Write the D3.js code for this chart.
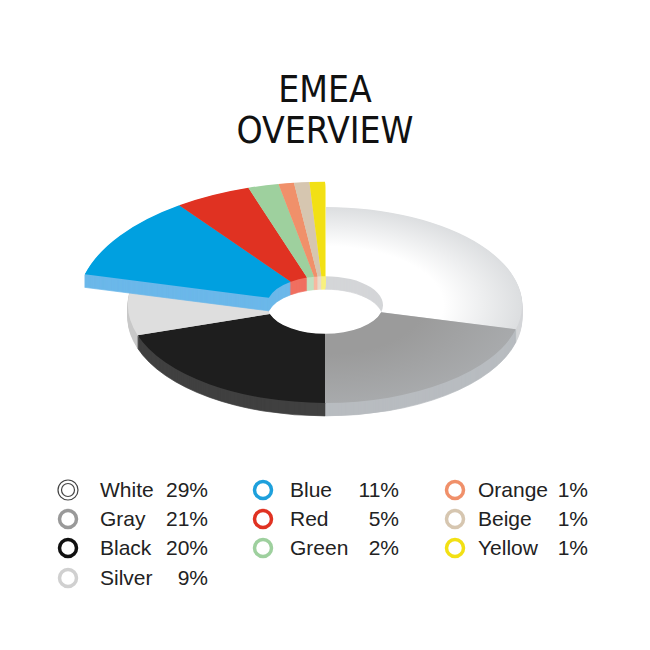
<!DOCTYPE html>
<html><head><meta charset="utf-8">
<script src="https://cdn.jsdelivr.net/npm/d3@7"></script>
<style>body{margin:0;background:#fff}</style></head>
<body><svg id="c" width="650" height="650"></svg>
<script>
const categories=["White","Gray","Black","Silver","Blue","Red","Green","Orange","Beige","Yellow"];
const values=[29,21,20,9,11,5,2,1,1,1];
const exploded=[false,false,false,false,true,true,true,true,true,true];
const topColors=["#ffffff","#9b9b9b","#1e1e1e","#dedede","#00a0e0","#e03222","#9ed09e","#f0906a","#d6c6b0","#f2e014"];
const sideColors=["#d4d6d8","#b8bcc0","#404040","#c8c8c8","#6cb8ea","#f07060","#c0e0c0","#f8b8a0","#e8dccc","#f8f080"];
const legendColors=["#444","#999","#111","#d0d0d0","#1ea0dc","#e03222","#9ed09e","#f0906a","#d6c6b0","#f2e014"];
const titleLines=["EMEA","OVERVIEW"];

const svg=d3.select("#c");
const defs=svg.append("defs");
const g1=defs.append("radialGradient").attr("id","wg").attr("gradientUnits","userSpaceOnUse")
 .attr("cx",0).attr("cy",0).attr("r",197);
g1.append("stop").attr("offset","0.6").attr("stop-color","#fff");
g1.append("stop").attr("offset","1").attr("stop-color","#dcdee0");
const g2=defs.append("radialGradient").attr("id","gg").attr("gradientUnits","userSpaceOnUse")
 .attr("cx",0).attr("cy",0).attr("r",197);
g2.append("stop").attr("offset","0.5").attr("stop-color","#9b9b9b");
g2.append("stop").attr("offset","1").attr("stop-color","#a8aaac");

svg.selectAll("text.t").data(titleLines).enter().append("text")
 .attr("x",325).attr("y",(d,i)=>102+i*41).attr("text-anchor","middle")
 .attr("font-family","'Liberation Sans Narrow','DejaVu Sans Condensed',sans-serif")
 .attr("font-size",37).attr("fill","#111").text(d=>d);

const cx=325,cy=305,ratio=0.497,thick=13;
const pie=d3.pie().sort(null).value(d=>d)(values);
const inner=58;
function outerR(i){return exploded[i]?248:197;}
const arc=d3.arc().innerRadius(inner).outerRadius((d)=>outerR(d.index));

function drawGroup(ex){
  const items=pie.filter(p=>exploded[p.index]===ex);
  for(let t=thick;t>=0;t--){
    const g=svg.append("g").attr("transform",`translate(${cx},${cy+t}) scale(1,${ratio})`);
    g.selectAll("path").data(items).enter().append("path")
      .attr("d",arc)
      .attr("fill",d=>t===0?(d.index===0?"url(#wg)":d.index===1?"url(#gg)":topColors[d.index]):sideColors[d.index])
      .attr("stroke",d=>t===0?"none":sideColors[d.index]).attr("stroke-width",1);
  }
}
drawGroup(false);
drawGroup(true);

const cols=[{c:68,t:100,p:208},{c:263,t:290,p:399},{c:455,t:478,p:588}];
const rowY=[490,519,548,578];
const lay=[[0,0],[0,1],[0,2],[0,3],[1,0],[1,1],[1,2],[2,0],[2,1],[2,2]];
const lg=svg.append("g").attr("font-family","'Liberation Sans','Helvetica',sans-serif").attr("font-size",21).attr("fill","#222");
categories.forEach((c,i)=>{
  const col=cols[lay[i][0]],y=rowY[lay[i][1]];
  if(i===0){
    lg.append("circle").attr("cx",col.c).attr("cy",y).attr("r",10).attr("fill","none").attr("stroke","#444").attr("stroke-width",1.2);
    lg.append("circle").attr("cx",col.c).attr("cy",y).attr("r",6.5).attr("fill","none").attr("stroke","#444").attr("stroke-width",1.2);
  } else {
    lg.append("circle").attr("cx",col.c).attr("cy",y).attr("r",8.5).attr("fill","none").attr("stroke",legendColors[i]).attr("stroke-width",3.5);
  }
  lg.append("text").attr("x",col.t).attr("y",y+7).text(c);
  lg.append("text").attr("x",col.p).attr("y",y+7).attr("text-anchor","end").text(values[i]+"%");
});
</script></body></html>
